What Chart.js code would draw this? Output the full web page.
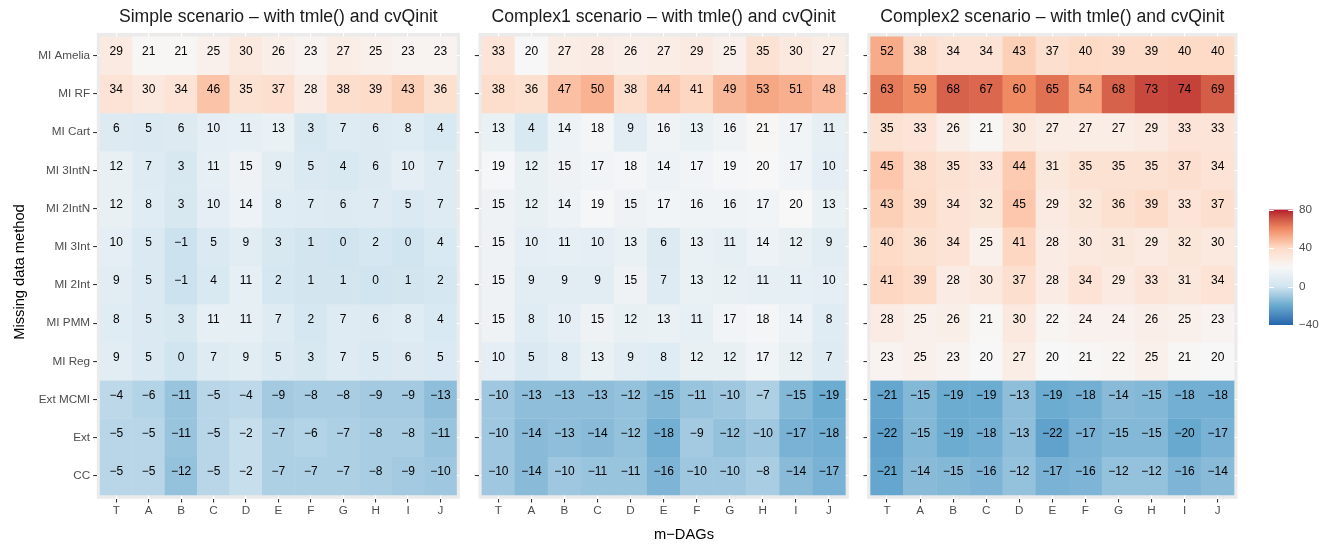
<!DOCTYPE html>
<html>
<head>
<meta charset="utf-8">
<title>Bias heatmaps by m-DAG and missing data method</title>
<script src="https://cdn.jsdelivr.net/npm/chart.js@4/dist/chart.umd.min.js"></script>
<style>
  html, body { margin: 0; padding: 0; background: #ffffff; }
  #wrap { position: relative; width: 1333px; height: 544px; overflow: hidden; background: #ffffff; }
  #wrap canvas { position: absolute; left: 0; top: 0; }
</style>
</head>
<body>
<div id="wrap">
  <canvas id="panelSimple" width="1333" height="544"></canvas>
  <canvas id="panelComplex1" width="1333" height="544"></canvas>
  <canvas id="panelComplex2" width="1333" height="544"></canvas>
  <canvas id="colourKey" width="1333" height="544"></canvas>
</div>
<script>
// ---- data ---------------------------------------------------------------
const dags = ['T', 'A', 'B', 'C', 'D', 'E', 'F', 'G', 'H', 'I', 'J'];

const methods = ['MI Amelia', 'MI RF', 'MI Cart', 'MI 3IntN', 'MI 2IntN', 'MI 3Int',
                 'MI 2Int', 'MI PMM', 'MI Reg', 'Ext MCMI', 'Ext', 'CC'];

const panelTitles = [
  'Simple scenario – with tmle() and cvQinit',
  'Complex1 scenario – with tmle() and cvQinit',
  'Complex2 scenario – with tmle() and cvQinit'
];

// one row per method, one column per m-DAG
const simpleBias = [
  [29, 21, 21, 25, 30, 26, 23, 27, 25, 23, 23],
  [34, 30, 34, 46, 35, 37, 28, 38, 39, 43, 36],
  [6, 5, 6, 10, 11, 13, 3, 7, 6, 8, 4],
  [12, 7, 3, 11, 15, 9, 5, 4, 6, 10, 7],
  [12, 8, 3, 10, 14, 8, 7, 6, 7, 5, 7],
  [10, 5, -1, 5, 9, 3, 1, 0, 2, 0, 4],
  [9, 5, -1, 4, 11, 2, 1, 1, 0, 1, 2],
  [8, 5, 3, 11, 11, 7, 2, 7, 6, 8, 4],
  [9, 5, 0, 7, 9, 5, 3, 7, 5, 6, 5],
  [-4, -6, -11, -5, -4, -9, -8, -8, -9, -9, -13],
  [-5, -5, -11, -5, -2, -7, -6, -7, -8, -8, -11],
  [-5, -5, -12, -5, -2, -7, -7, -7, -8, -9, -10]
];

const complex1Bias = [
  [33, 20, 27, 28, 26, 27, 29, 25, 35, 30, 27],
  [38, 36, 47, 50, 38, 44, 41, 49, 53, 51, 48],
  [13, 4, 14, 18, 9, 16, 13, 16, 21, 17, 11],
  [19, 12, 15, 17, 18, 14, 17, 19, 20, 17, 10],
  [15, 12, 14, 19, 15, 17, 16, 16, 17, 20, 13],
  [15, 10, 11, 10, 13, 6, 13, 11, 14, 12, 9],
  [15, 9, 9, 9, 15, 7, 13, 12, 11, 11, 10],
  [15, 8, 10, 15, 12, 13, 11, 17, 18, 14, 8],
  [10, 5, 8, 13, 9, 8, 12, 12, 17, 12, 7],
  [-10, -13, -13, -13, -12, -15, -11, -10, -7, -15, -19],
  [-10, -14, -13, -14, -12, -18, -9, -12, -10, -17, -18],
  [-10, -14, -10, -11, -11, -16, -10, -10, -8, -14, -17]
];

const complex2Bias = [
  [52, 38, 34, 34, 43, 37, 40, 39, 39, 40, 40],
  [63, 59, 68, 67, 60, 65, 54, 68, 73, 74, 69],
  [35, 33, 26, 21, 30, 27, 27, 27, 29, 33, 33],
  [45, 38, 35, 33, 44, 31, 35, 35, 35, 37, 34],
  [43, 39, 34, 32, 45, 29, 32, 36, 39, 33, 37],
  [40, 36, 34, 25, 41, 28, 30, 31, 29, 32, 30],
  [41, 39, 28, 30, 37, 28, 34, 29, 33, 31, 34],
  [28, 25, 26, 21, 30, 22, 24, 24, 26, 25, 23],
  [23, 25, 23, 20, 27, 20, 21, 22, 25, 21, 20],
  [-21, -15, -19, -19, -13, -19, -18, -14, -15, -18, -18],
  [-22, -15, -19, -18, -13, -22, -17, -15, -15, -20, -17],
  [-21, -14, -15, -16, -12, -17, -16, -12, -12, -16, -14]
];

const fillLimits = [-40, 80];
const keyBreaks = [80, 40, 0, -40];

// ---- styling --------------------------------------------------------------
const FONT = '"Liberation Sans", Arial, Helvetica, sans-serif';
const PANEL_BG = '#EBEBEB';
const AXIS_TEXT = '#4D4D4D';
const TICK_COLOUR = '#333333';
// RdBu (7 classes), low values blue, high values red
const ramp = ['#2166AC', '#67A9CF', '#D1E5F0', '#F7F7F7', '#FDDBC7', '#EF8A62', '#B2182B'];

// panel boxes in page pixels
const panelBoxes = [
  { left: 96.8, right: 459.9 },
  { left: 478.5, right: 848.8 },
  { left: 867.2, right: 1237.5 }
];
const PANEL_TOP = 32.9, PANEL_BOTTOM = 498.8;
const PAGE_W = 1333, PAGE_H = 544;

// ---- colour ramp interpolated in CIE Lab ------------------------------------
function hexToLab(hex) {
  const ch = [1, 3, 5].map(i => parseInt(hex.slice(i, i + 2), 16) / 255)
    .map(c => c <= 0.04045 ? c / 12.92 : Math.pow((c + 0.055) / 1.055, 2.4));
  const [r, g, b] = ch;
  const X = (0.4124564 * r + 0.3575761 * g + 0.1804375 * b) / 0.95047;
  const Y = (0.2126729 * r + 0.7151522 * g + 0.0721750 * b);
  const Z = (0.0193339 * r + 0.1191920 * g + 0.9503041 * b) / 1.08883;
  const f = t => t > 0.008856 ? Math.cbrt(t) : t / 0.128418 + 4 / 29;
  const fx = f(X), fy = f(Y), fz = f(Z);
  return [116 * fy - 16, 500 * (fx - fy), 200 * (fy - fz)];
}
function labToRgb(L, a, b) {
  const fy = (L + 16) / 116, fx = fy + a / 500, fz = fy - b / 200;
  const inv = t => t > 6 / 29 ? t * t * t : 0.128418 * (t - 4 / 29);
  const X = inv(fx) * 0.95047, Y = inv(fy), Z = inv(fz) * 1.08883;
  let r = 3.2404542 * X - 1.5371385 * Y - 0.4985314 * Z;
  let g = -0.9692660 * X + 1.8760108 * Y + 0.0415560 * Z;
  let bb = 0.0556434 * X - 0.2040259 * Y + 1.0572252 * Z;
  const enc = c => {
    c = c <= 0.0031308 ? 12.92 * c : 1.055 * Math.pow(c, 1 / 2.4) - 0.055;
    return Math.round(Math.min(1, Math.max(0, c)) * 255);
  };
  return 'rgb(' + enc(r) + ',' + enc(g) + ',' + enc(bb) + ')';
}
const rampLab = ramp.map(hexToLab);
function fillFor(v) {
  let t = (v - fillLimits[0]) / (fillLimits[1] - fillLimits[0]);
  t = Math.min(1, Math.max(0, t));
  const s = t * (rampLab.length - 1);
  const i = Math.min(rampLab.length - 2, Math.floor(s));
  const u = s - i;
  const a = rampLab[i], b = rampLab[i + 1];
  return labToRgb(a[0] + (b[0] - a[0]) * u, a[1] + (b[1] - a[1]) * u, a[2] + (b[2] - a[2]) * u);
}
const fmt = v => (v < 0 ? '\u2212' + Math.abs(v) : String(v));

// ---- plugins ----------------------------------------------------------------
// grey panel background, panel title and the shared axis titles
const panelDecor = {
  id: 'panelDecor',
  beforeDraw(chart, args, opts) {
    const a = chart.chartArea, ctx = chart.ctx;
    ctx.save();
    ctx.fillStyle = PANEL_BG;
    ctx.fillRect(a.left, a.top, a.right - a.left, a.bottom - a.top);
    ctx.restore();
  },
  afterDraw(chart, args, opts) {
    const a = chart.chartArea, ctx = chart.ctx;
    ctx.save();
    ctx.fillStyle = '#1A1A1A';
    ctx.textAlign = 'center';
    ctx.textBaseline = 'middle';
    ctx.font = '17.6px ' + FONT;
    ctx.fillText(opts.title, (a.left + a.right) / 2, 17.5);
    if (opts.axisTitles) {
      ctx.fillStyle = '#000000';
      ctx.font = '14.7px ' + FONT;
      ctx.fillText('m\u2212DAGs', 684, 535);
      ctx.translate(19.5, 272);
      ctx.rotate(-Math.PI / 2);
      ctx.fillText('Missing data method', 0, 0);
    }
    ctx.restore();
  }
};

// value printed in each tile, nudged slightly upwards
const cellText = {
  id: 'cellText',
  afterDatasetsDraw(chart) {
    const ctx = chart.ctx, ys = chart.scales.y;
    ctx.save();
    ctx.fillStyle = '#000000';
    ctx.font = '12px ' + FONT;
    ctx.textAlign = 'center';
    ctx.textBaseline = 'middle';
    chart.data.datasets.forEach((ds, r) => {
      const meta = chart.getDatasetMeta(r);
      meta.data.forEach((bar, c) => {
        ctx.fillText(fmt(ds.data[c].v), bar.x, ys.getPixelForValue(ds.data[c].row - 0.1));
      });
    });
    ctx.restore();
  }
};

// ---- panels -----------------------------------------------------------------
function buildPanel(canvasId, title, values, box, withLabels) {
  const yAxisW = withLabels ? 70 : 12;
  const xAxisH = 26;
  return new Chart(document.getElementById(canvasId), {
    type: 'bar',
    data: {
      datasets: methods.map((m, r) => ({
        label: m,
        data: dags.map((d, c) => ({ x: c, y: [r - 0.505, r + 0.505], v: values[r][c], row: r })),
        backgroundColor: values[r].map(fillFor),
        borderWidth: 0,
        barPercentage: 1.01,
        categoryPercentage: 1,
        grouped: false
      }))
    },
    options: {
      responsive: false,
      animation: false,
      devicePixelRatio: 1,
      events: [],
      layout: {
        padding: {
          left: box.left - yAxisW,
          right: PAGE_W - box.right,
          top: PANEL_TOP,
          bottom: PAGE_H - PANEL_BOTTOM - xAxisH
        }
      },
      plugins: {
        legend: { display: false },
        tooltip: { enabled: false },
        title: { display: false },
        panelDecor: { title: title, axisTitles: withLabels }
      },
      scales: {
        x: {
          type: 'linear',
          offset: false,
          min: -0.6,
          max: dags.length - 1 + 0.6,
          afterBuildTicks: s => { s.ticks = dags.map((d, i) => ({ value: i })); },
          afterFit: s => { s.height = xAxisH; },
          ticks: {
            callback: v => dags[v],
            color: AXIS_TEXT,
            font: { family: FONT, size: 11.7 },
            padding: 1,
            autoSkip: false,
            maxRotation: 0,
            minRotation: 0
          },
          grid: { offset: false, color: '#FFFFFF', lineWidth: 1.1, tickColor: TICK_COLOUR, tickWidth: 1.07, tickLength: 3.7, drawTicks: true },
          border: { display: false }
        },
        y: {
          type: 'linear',
          offset: false,
          reverse: true,
          min: -0.6,
          max: methods.length - 1 + 0.6,
          afterBuildTicks: s => { s.ticks = methods.map((m, i) => ({ value: i })); },
          afterFit: s => { s.width = yAxisW; },
          ticks: {
            callback: v => (withLabels ? methods[v] : ''),
            color: AXIS_TEXT,
            font: { family: FONT, size: 11.7 },
            padding: 3,
            autoSkip: false
          },
          grid: { offset: false, color: '#FFFFFF', lineWidth: 1.1, tickColor: TICK_COLOUR, tickWidth: 1.07, tickLength: 3.7, drawTicks: true },
          border: { display: false }
        }
      }
    },
    plugins: [panelDecor, cellText]
  });
}

buildPanel('panelSimple', panelTitles[0], simpleBias, panelBoxes[0], true);
buildPanel('panelComplex1', panelTitles[1], complex1Bias, panelBoxes[1], false);
buildPanel('panelComplex2', panelTitles[2], complex2Bias, panelBoxes[2], false);

// ---- colour key -------------------------------------------------------------
const keyTicks = {
  id: 'keyTicks',
  afterDatasetsDraw(chart) {
    const a = chart.chartArea, ctx = chart.ctx, ys = chart.scales.y;
    const w = (a.right - a.left) / 5;
    ctx.save();
    ctx.strokeStyle = '#FFFFFF';
    ctx.lineWidth = 1;
    keyBreaks.forEach(b => {
      const y = Math.round(ys.getPixelForValue(b)) + 0.5;
      ctx.beginPath();
      ctx.moveTo(a.left, y); ctx.lineTo(a.left + w, y);
      ctx.moveTo(a.right - w, y); ctx.lineTo(a.right, y);
      ctx.stroke();
    });
    ctx.restore();
  }
};

const keyBox = { left: 1269, right: 1293, top: 209.5, bottom: 325 };
new Chart(document.getElementById('colourKey'), {
  type: 'bar',
  data: {
    labels: ['bias'],
    datasets: [{
      data: [[fillLimits[0], fillLimits[1]]],
      backgroundColor: c => {
        const a = c.chart.chartArea;
        if (!a) return null;
        const g = c.chart.ctx.createLinearGradient(0, a.bottom, 0, a.top);
        const n = 60;
        for (let i = 0; i <= n; i++) {
          g.addColorStop(i / n, fillFor(fillLimits[0] + (fillLimits[1] - fillLimits[0]) * i / n));
        }
        return g;
      },
      borderWidth: 0,
      barPercentage: 1,
      categoryPercentage: 1
    }]
  },
  options: {
    responsive: false,
    animation: false,
    devicePixelRatio: 1,
    events: [],
    layout: {
      padding: { left: keyBox.left, right: PAGE_W - keyBox.right - 40, top: keyBox.top, bottom: PAGE_H - keyBox.bottom }
    },
    plugins: { legend: { display: false }, tooltip: { enabled: false } },
    scales: {
      x: { display: false },
      y: {
        position: 'right',
        min: fillLimits[0],
        max: fillLimits[1],
        afterBuildTicks: s => { s.ticks = keyBreaks.map(v => ({ value: v })); },
        afterFit: s => { s.width = 40; },
        ticks: {
          callback: v => fmt(v),
          color: AXIS_TEXT,
          font: { family: FONT, size: 11.7 },
          padding: 6
        },
        grid: { display: false, drawTicks: false },
        border: { display: false }
      }
    }
  },
  plugins: [keyTicks]
});
</script>
</body>
</html>
